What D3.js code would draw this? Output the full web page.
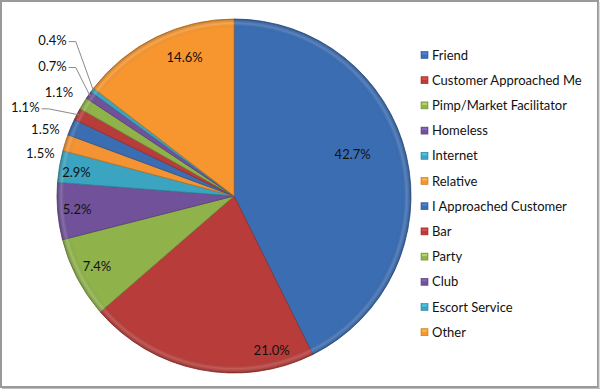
<!DOCTYPE html>
<html><head><meta charset="utf-8">
<script src="https://cdn.jsdelivr.net/npm/d3@7"></script>
<style>html,body{margin:0;padding:0;background:#fff;}svg{display:block;}</style>
</head><body>
<svg id="c" width="600" height="389"></svg>
<script>
// ---- data ----
const categories = ["Friend","Customer Approached Me","Pimp/Market Facilitator","Homeless","Internet","Relative","I Approached Customer","Bar","Party","Club","Escort Service","Other"];
const values = [42.7, 21.0, 7.4, 5.2, 2.9, 1.5, 1.5, 1.1, 1.1, 0.7, 0.4, 14.6];
const valueLabels = ["42.7%","21.0%","7.4%","5.2%","2.9%","1.5%","1.5%","1.1%","1.1%","0.7%","0.4%","14.6%"];
const colors = ["#3b6db3","#b83d3a","#8fb24b","#71529a","#3ba4c0","#f39333","#3b6db3","#b83d3a","#8fb24b","#71529a","#3ba4c0","#f7962f"];
// label placement (Excel "best fit"): angle shift in degrees from slice middle, radius factor
const labelShift = [-6, -25, 0.5, 0, -1.2, -5.2, -3.5, -4.7, -0.9, 0.7, 3.8, 6.6];
const labelRadius = [0.71, 0.90, 0.87, 0.89, 0.90, 1.12, 1.13, 1.28, 1.15, 1.26, 1.35, 0.83];
const withLeader = [false,false,false,false,false,false,false,true,false,true,true,false];

const svg = d3.select("#c");
const W = 600, H = 389;
const cx = 234, cy = 196, R = 177;

svg.append("rect").attr("x",1).attr("y",1).attr("width",W-3).attr("height",H-3)
  .attr("fill","#fff").attr("stroke","#9a9a9a").attr("stroke-width",2);
svg.append("line").attr("x1",W-1).attr("x2",W-1).attr("y1",2).attr("y2",H).attr("stroke","#bdbdbd").attr("stroke-width",1);
svg.append("line").attr("x1",2).attr("x2",W).attr("y1",H-0.5).attr("y2",H-0.5).attr("stroke","#bdbdbd").attr("stroke-width",1);

const defs = svg.append("defs");
const rim = defs.append("radialGradient").attr("id","rim").attr("gradientUnits","userSpaceOnUse")
  .attr("cx",0).attr("cy",0).attr("r",R).attr("fx",0).attr("fy",0);
rim.append("stop").attr("offset","0%").attr("stop-color","#000").attr("stop-opacity",0);
rim.append("stop").attr("offset","95%").attr("stop-color","#000").attr("stop-opacity",0);
rim.append("stop").attr("offset","97.5%").attr("stop-color","#fff").attr("stop-opacity",0.15);
rim.append("stop").attr("offset","100%").attr("stop-color","#000").attr("stop-opacity",0.22);

const data = categories.map((c,i)=>({cat:c, value:values[i], label:valueLabels[i], color:colors[i], i}));
const pie = d3.pie().value(d=>d.value).sort(null);
const arcs = pie(data);
const arc = d3.arc().innerRadius(0).outerRadius(R);

const g = svg.append("g").attr("transform",`translate(${cx},${cy})`);
g.selectAll("path.s").data(arcs).join("path").attr("class","s")
  .attr("d",arc).attr("fill",d=>d.data.color)
  .attr("stroke",d=>d3.color(d.data.color).darker(0.8)).attr("stroke-width",0.8).attr("stroke-linejoin","round");
g.append("circle").attr("r",R).attr("fill","url(#rim)").attr("stroke","none");

const font = "Lato, 'Open Sans', sans-serif";
const polar = (ang, r) => [r*Math.sin(ang), -r*Math.cos(ang)];

arcs.forEach((a,i)=>{
  const mid = (a.startAngle + a.endAngle)/2;
  const ang = mid + labelShift[i]*Math.PI/180;
  const [lx, ly] = polar(ang, labelRadius[i]*R);
  const t = g.append("text").attr("x",lx).attr("y",ly).attr("dy","0.35em")
    .attr("text-anchor","middle").attr("font-family",font).attr("font-size",13)
    .attr("fill","#111").text(a.data.label);
  if (withLeader[i]) {
    const w = t.node().getComputedTextLength();
    const x0 = lx + w/2 + 2;
    const [ex, ey] = polar(mid, R*0.99);
    g.append("polyline").attr("points",`${x0},${ly+1} ${x0+7},${ly+1} ${ex},${ey}`)
      .attr("fill","none").attr("stroke","#8a8a8a").attr("stroke-width",1);
  }
});

// legend
const ly0 = 55, lstep = 25.2;
const lg = svg.append("g");
data.forEach((d,i)=>{
  const y = ly0 + i*lstep;
  const c = d3.color(d.color);
  lg.append("rect").attr("x",421).attr("y",y-3.5).attr("width",7).attr("height",7)
    .attr("fill",d.color).attr("stroke",c.darker(0.6)).attr("stroke-width",0.6);
  lg.append("rect").attr("x",422).attr("y",y-2.5).attr("width",5).attr("height",2)
    .attr("fill",c.brighter(0.8)).attr("opacity",0.7);
  lg.append("text").attr("x",432).attr("y",y).attr("dy","0.35em")
    .attr("font-family",font).attr("font-size",13).attr("fill","#111").text(d.cat);
});
</script>
</body></html>
